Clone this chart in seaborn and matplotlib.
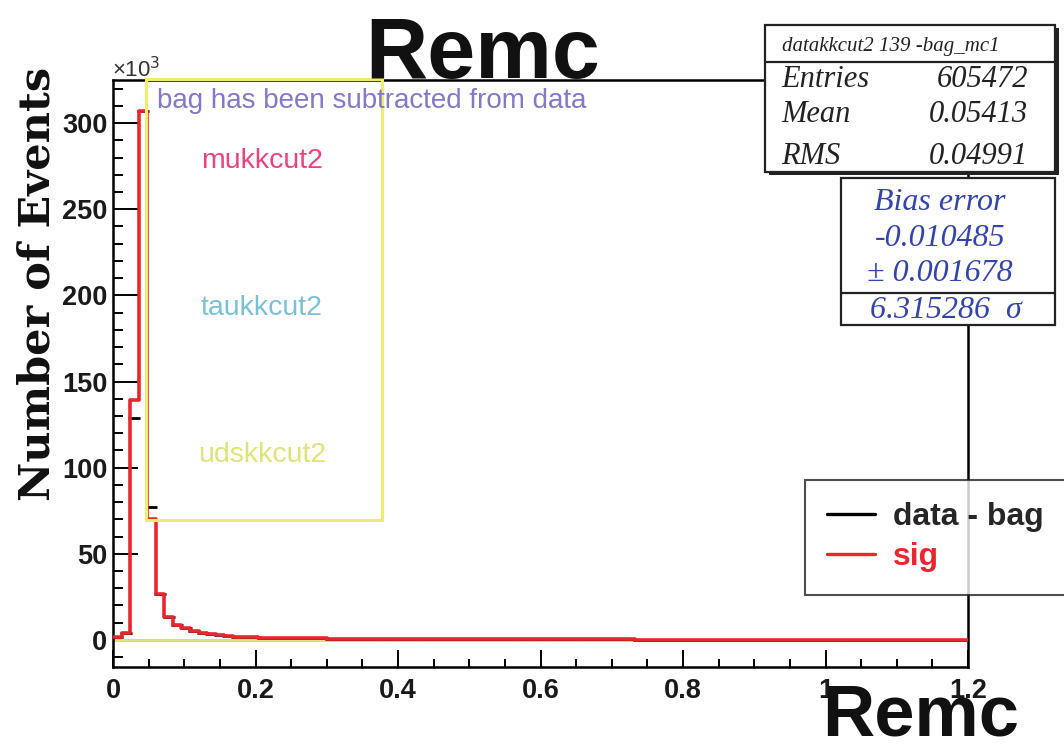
import numpy as np
import pandas as pd
import matplotlib
matplotlib.use("Agg")
import matplotlib.pyplot as plt
import seaborn as sns
from matplotlib.patches import Rectangle
from matplotlib.lines import Line2D
from matplotlib.ticker import MultipleLocator

# ---- data (counts in units of 10^3, 100 bins from 0 to 1.2) ----
bin_lo, bin_hi, n_bins = 0.0, 1.2, 100
sig = [1.5, 4.0, 139, 307, 70, 26.5, 13.5, 8.7, 6.8, 5.2,
       4.1, 3.3, 2.7, 2.3, 1.9, 1.6, 1.5, 1.4, 1.3, 1.2,
       1.2, 1.1, 1.1, 1.0, 1.0, 0.7, 0.7, 0.6, 0.6, 0.6,
       0.6, 0.5, 0.5, 0.5, 0.5, 0.5, 0.3, 0.3, 0.3, 0.3,
       0.3, 0.3, 0.3, 0.3, 0.3, 0.3, 0.3, 0.3, 0.3, 0.3,
       0.3, 0.3, 0.3, 0.3, 0.3, 0.3, 0.3, 0.3, 0.3, 0.3,
       0.3, 0.2, 0.2, 0.2, 0.2, 0.2, 0.2, 0.2, 0.2, 0.2,
       0.2, 0.2, 0.2, 0.2, 0.2, 0.2, 0.2, 0.2, 0.2, 0.2,
       0.2, 0.2, 0.2, 0.2, 0.2, 0.2, 0.2, 0.2, 0.2, 0.2,
       0.2, 0.2, 0.2, 0.2, 0.2, 0.2, 0.2, 0.2, 0.2, 0.2]
data_bag = [1.5, 4.0, 129, 307, 77, 26.5, 13.5, 8.7, 6.8, 5.2,
            4.1, 3.3, 2.7, 2.3, 1.9, 1.6, 1.5, 1.4, 1.3, 1.2,
            1.2, 1.1, 1.1, 1.0, 1.0, 0.7, 0.7, 0.6, 0.6, 0.6,
            0.6, 0.5, 0.5, 0.5, 0.5, 0.5, 0.3, 0.3, 0.3, 0.3,
            0.3, 0.3, 0.3, 0.3, 0.3, 0.3, 0.3, 0.3, 0.3, 0.3,
            0.3, 0.3, 0.3, 0.3, 0.3, 0.3, 0.3, 0.3, 0.3, 0.3,
            0.3, 0.2, 0.2, 0.2, 0.2, 0.2, 0.2, 0.2, 0.2, 0.2,
            0.2, 0.2, 0.2, 0.2, 0.2, 0.2, 0.2, 0.2, 0.2, 0.2,
            0.2, 0.2, 0.2, 0.2, 0.2, 0.2, 0.2, 0.2, 0.2, 0.2,
            0.2, 0.2, 0.2, 0.2, 0.2, 0.2, 0.2, 0.2, 0.2, 0.2]
mukk = [0.0] * n_bins
taukk = [0.0] * n_bins
udskk = [0.0] * n_bins

x_ticks = [0.0, 0.2, 0.4, 0.6, 0.8, 1.0, 1.2]
x_tick_labels = ["0", "0.2", "0.4", "0.6", "0.8", "1", "1.2"]
y_ticks = [0, 50, 100, 150, 200, 250, 300]
y_tick_labels = ["0", "50", "100", "150", "200", "250", "300"]

stats_title = "datakkcut2 139 -bag_mc1"
stats_rows = [("Entries", "605472"), ("Mean", "0.05413"), ("RMS", "0.04991")]
bias_lines = ["Bias error", "-0.010485", "\u00b1 0.001678"]
bias_sigma = "6.315286  \u03c3"

# ---- style ----
sns.set_theme(style="white")
plt.rcParams["font.family"] = ["Liberation Sans", "DejaVu Sans"]

RED = "#e8262e"
W, H = 1064, 748
fig = plt.figure(figsize=(W / 100, H / 100), dpi=100)
ax = fig.add_axes([113 / W, 1 - 667 / H, (968 - 113) / W, (667 - 80) / H])

centers = bin_lo + (np.arange(n_bins) + 0.5) * (bin_hi - bin_lo) / n_bins
df = pd.DataFrame({"x": centers, "sig": sig, "data": data_bag,
                   "mu": mukk, "tau": taukk, "uds": udskk})
hist_kw = dict(bins=n_bins, binrange=(bin_lo, bin_hi), element="step",
               fill=False, ax=ax)

# background MC components (all at zero after subtraction)
for col, c in [("mu", "#e8457e"), ("tau", "#7cc0d8"), ("uds", "#dfe47a")]:
    sns.histplot(data=df, x="x", weights=col, color=c, linewidth=2.0, **hist_kw)

# data - bag points
sns.scatterplot(data=df, x="x", y="data", marker="_", s=70, color="black",
                linewidth=2.0, ax=ax, zorder=3, legend=False)

# signal MC
sns.histplot(data=df, x="x", weights="sig", color=RED, linewidth=2.6,
             zorder=4, **hist_kw)

ax.set_xlim(0, 1.2)
ax.set_ylim(-15.7, 325)
ax.set_xlabel("")
ax.set_ylabel("")

ax.set_xticks(x_ticks)
ax.set_xticklabels(x_tick_labels)
ax.set_yticks(y_ticks)
ax.set_yticklabels(y_tick_labels)
ax.xaxis.set_minor_locator(MultipleLocator(0.05))
ax.yaxis.set_minor_locator(MultipleLocator(10))
ax.tick_params(axis="x", which="major", direction="in", length=12, width=1.4,
               pad=8, labelsize=19.5, top=False, bottom=True, color="black")
ax.tick_params(axis="x", which="minor", direction="in", length=6, width=1.4,
               top=False, bottom=True, color="black")
ax.tick_params(axis="y", which="major", direction="in", length=18, width=1.4,
               pad=4, labelsize=19.5, left=True, right=False, color="black")
ax.tick_params(axis="y", which="minor", direction="in", length=7, width=1.4,
               left=True, right=False, color="black")
for lab in ax.get_xticklabels() + ax.get_yticklabels():
    lab.set_fontweight("bold")
    lab.set_color("#1a1a1a")
for sp in ax.spines.values():
    sp.set_visible(True)
    sp.set_color("black")
    sp.set_linewidth(1.8)

# legend for the two drawn series
handles = [Line2D([], [], color="black", lw=2.4), Line2D([], [], color=RED, lw=2.4)]
leg = fig.legend(handles, ["data - bag", "sig"], loc="upper left",
                 bbox_to_anchor=(805 / W, 1 - 480 / H), frameon=True,
                 fancybox=False, prop={"weight": "bold", "size": 23},
                 handlelength=1.5, handletextpad=0.55, labelspacing=0.31,
                 borderpad=0.7, borderaxespad=0.0)
leg.get_frame().set_edgecolor("#222222")
leg.get_frame().set_linewidth(1.5)
leg.get_texts()[1].set_color(RED)
leg.set_zorder(20)

# ---- annotation layer in pixel coordinates ----
ov = fig.add_axes([0, 0, 1, 1], zorder=10)
ov.set_xlim(0, W)
ov.set_ylim(H, 0)
ov.axis("off")
ov.patch.set_alpha(0)

# titles
ov.text(483, 78, "Remc", fontsize=62, fontweight="bold", ha="center",
        va="baseline", color="#111111")
ov.text(1019, 735, "Remc", fontsize=52, fontweight="bold", ha="right",
        va="baseline", color="#111111")
ov.text(38, 284, "Number of Events", fontsize=31, fontweight="bold",
        family="DejaVu Serif", rotation=90, ha="center", va="center",
        color="#111111")
ov.text(112, 77, "\u00d710$^{3}$", fontsize=16, ha="left", va="baseline",
        color="#333333")

# component box
ov.add_patch(Rectangle((146, 79), 236, 441, fill=False, edgecolor="#eeee6e",
                       linewidth=2.2))
ov.text(157, 101, "bag has been subtracted from data", fontsize=20,
        color="#8479c6", ha="left", va="center")
ov.text(262, 161, "mukkcut2", fontsize=20.5, color="#e8457e", ha="center", va="center")
ov.text(262, 308, "taukkcut2", fontsize=20.5, color="#7cc0d8", ha="center", va="center")
ov.text(262, 455, "udskkcut2", fontsize=20.5, color="#dfe47a", ha="center", va="center")

# statistics box with shadow
ov.add_patch(Rectangle((769, 28), 290, 147, facecolor="#222222",
                       edgecolor="none"))
ov.add_patch(Rectangle((765, 25), 290, 147, facecolor="white",
                       edgecolor="#222222", linewidth=1.6))
ov.plot([765, 1055], [62, 62], color="#222222", lw=1.6)
ov.text(891, 46, stats_title, fontsize=15, family="Liberation Serif",
        style="italic", ha="center", va="center", color="#222222")
for (name, val), yc in zip(stats_rows, [79, 114, 156]):
    ov.text(781, yc, name, fontsize=22, family="Liberation Serif",
            style="italic", ha="left", va="center", color="#222222")
    ov.text(1028, yc, val, fontsize=22, family="Liberation Serif",
            style="italic", ha="right", va="center", color="#222222")

# bias box
BLUE = "#3344aa"
ov.add_patch(Rectangle((841, 178), 214, 147, facecolor="white",
                       edgecolor="#222222", linewidth=1.6))
ov.plot([841, 1055], [293, 293], color="#222222", lw=1.6)
for line, yc in zip(bias_lines, [202, 238, 273]):
    ov.text(940, yc, line, fontsize=23, family="Liberation Serif",
            style="italic", ha="center", va="center", color=BLUE)
ov.text(946, 310, bias_sigma, fontsize=23, family="Liberation Serif",
        style="italic", ha="center", va="center", color=BLUE)

fig.savefig("out.png", dpi=100, facecolor="white")
